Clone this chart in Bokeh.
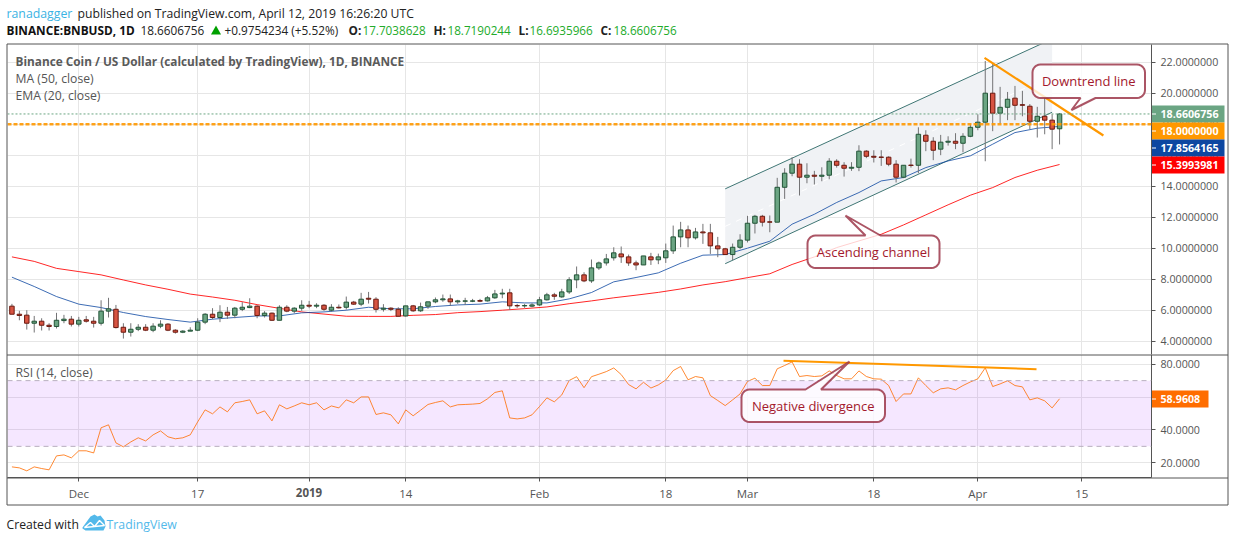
from bokeh.plotting import figure
from bokeh.layouts import column, row
from bokeh.models import FixedTicker, Label, PolyAnnotation, PrintfTickFormatter, Span, Range1d
from bokeh.embed import file_html
from bokeh.resources import INLINE
import math

# ---------- data ----------
first_day = -9  # Nov 22, 2018; day 0 = Dec 1, 2018
opens = [6.26,5.74,5.68,5.16,5.29,5.03,4.95,5.33,5.42,5.10,5.38,5.29,5.16,5.94,6.06,4.90,4.58,4.77,4.90,4.71,
         4.97,5.10,4.71,4.58,4.65,4.71,5.23,5.74,5.53,5.87,5.68,6.06,6.17,6.26,5.66,5.81,5.35,6.19,5.94,6.13,
         6.32,6.26,6.32,6.00,6.19,6.19,6.52,6.39,6.77,6.71,6.06,6.13,6.06,5.63,6.28,5.96,6.26,6.54,6.67,6.73,
         6.54,6.58,6.58,6.62,6.60,6.80,7.05,7.12,6.30,6.28,6.26,6.34,6.67,6.99,6.86,7.18,7.96,8.28,7.89,8.73,
         9.05,9.38,9.63,9.44,9.05,8.92,9.44,9.25,9.38,9.83,10.73,11.18,10.67,11.05,10.99,10.15,9.96,9.59,10.06,10.52,
         11.61,12.06,11.70,11.68,13.93,14.84,15.42,14.58,14.71,14.64,14.71,15.61,15.35,15.16,15.22,16.26,15.93,15.88,15.87,15.42,
         14.58,15.36,15.35,17.29,16.90,16.39,16.84,16.90,16.77,17.22,17.80,18.13,20.00,18.71,19.09,19.68,19.26,19.16,18.19,18.51,
         18.26,17.7038628]
highs = [6.41,5.96,6.00,5.63,5.48,5.16,5.83,5.70,5.63,5.57,5.63,5.57,6.64,6.80,6.34,5.16,5.16,5.10,5.10,5.16,
         5.35,5.16,4.77,4.71,4.90,5.48,5.81,6.13,6.32,6.21,6.21,6.52,6.77,6.32,5.94,5.85,6.32,6.32,6.19,6.64,
         6.60,6.45,6.39,6.39,6.37,6.88,6.60,7.12,7.18,6.84,6.39,6.19,6.19,6.28,6.34,6.49,6.54,6.82,7.01,7.01,
         6.67,6.80,6.73,6.73,6.92,7.31,7.38,7.38,6.41,6.41,6.45,6.86,7.12,7.12,7.38,8.13,8.82,8.45,9.27,9.14,
         9.63,10.06,10.11,9.59,9.20,9.50,9.70,9.65,10.30,11.46,11.70,11.46,11.31,11.57,11.57,10.73,10.02,10.30,10.90,12.09,
         12.15,12.15,12.11,14.54,15.16,15.87,15.74,15.48,14.99,15.22,15.81,15.74,15.55,15.55,16.64,16.32,16.32,16.32,15.93,15.68,
         15.35,15.78,17.80,17.61,17.16,17.31,17.22,17.42,17.42,18.00,18.64,22.08,21.93,20.41,20.08,20.47,20.15,19.30,19.12,19.68,
         18.64,18.7190244]
lows = [5.74,5.35,4.75,4.56,4.69,4.69,4.82,5.16,4.95,4.95,5.20,4.88,5.01,5.53,4.82,4.17,4.30,4.65,4.65,4.58,
        4.84,4.65,4.49,4.52,4.65,4.65,5.10,5.42,5.23,5.44,5.48,5.94,6.13,5.48,5.53,5.31,5.35,5.87,5.81,5.96,
        6.13,6.13,5.96,5.91,6.11,6.04,6.34,6.26,6.43,5.85,5.91,5.94,5.61,5.59,5.89,5.89,6.09,6.45,6.54,6.28,
        6.41,6.34,6.52,6.52,6.56,6.73,6.77,6.02,6.15,6.15,6.19,6.28,6.62,6.67,6.80,7.05,7.42,7.81,7.76,8.60,
        8.88,9.20,9.05,8.86,8.58,8.92,8.92,8.97,9.05,9.63,10.06,10.06,10.56,10.28,9.63,9.42,9.57,9.23,9.94,10.37,
        10.95,11.40,11.03,11.68,13.18,14.64,13.40,14.19,14.11,14.32,14.45,15.20,14.62,14.99,14.97,15.81,15.53,15.31,15.29,14.24,
        14.52,15.20,14.84,16.26,15.68,16.00,16.62,16.39,16.19,17.16,17.61,15.61,17.55,18.04,18.26,18.26,18.51,17.68,17.14,17.35,
        16.39,16.6935966]
closes = [5.74,5.66,5.16,5.29,5.03,4.95,5.35,5.42,5.10,5.35,5.29,5.16,5.94,6.09,4.88,4.58,4.77,4.90,4.71,4.97,
          5.10,4.71,4.58,4.65,4.71,5.23,5.74,5.53,5.87,5.68,6.13,6.19,6.26,5.66,5.81,5.35,6.19,5.94,6.13,6.32,
          6.26,6.32,6.06,6.19,6.15,6.52,6.39,6.71,6.71,6.06,6.13,6.06,5.61,6.28,5.96,6.22,6.54,6.67,6.73,6.54,
          6.60,6.60,6.60,6.58,6.80,7.05,7.10,6.28,6.28,6.30,6.34,6.67,6.99,6.90,7.18,7.96,8.28,7.89,8.73,9.05,
          9.31,9.70,9.44,9.05,8.92,9.50,9.25,9.44,9.83,10.73,11.18,10.67,11.05,10.99,10.15,9.96,9.59,10.06,10.52,11.61,
          12.06,11.68,11.68,13.93,14.84,15.42,14.58,14.71,14.64,14.71,15.61,15.35,15.16,15.22,16.26,15.93,15.87,15.86,15.42,14.58,
          15.35,15.34,17.35,16.90,16.32,16.84,16.90,16.77,17.22,17.80,18.13,20.00,18.71,19.09,19.61,19.22,19.22,18.19,18.51,18.26,
          17.68,18.6606756]

ma_blue_days = [-9,-6,-3,0,3,6,9,12,15,18,21,24,27,30,33,36,39,42,45,48,51,54,57,60,63,66,69,72,75,78,81,84,87,90,93,96,99,102,105,108,111,114,117,120,123,126,129,132]
ma_blue_vals = [8.13,7.53,6.88,6.39,6.17,5.85,5.59,5.40,5.23,5.42,5.53,5.63,5.63,5.83,5.89,6.00,6.19,6.09,6.09,6.24,6.34,6.39,6.54,6.47,6.47,6.73,7.14,7.83,8.11,8.41,9.03,9.55,9.59,10.00,10.45,11.55,12.19,12.95,13.59,14.34,14.56,15.20,15.63,15.96,16.71,17.46,17.74,17.8564165]
ma_red_days = [-9,-6,-3,0,3,6,9,12,15,18,21,24,27,30,33,36,39,42,45,48,51,54,57,60,63,66,69,72,75,78,81,84,87,90,93,96,99,102,105,108,111,114,117,120,123,126,129,132]
ma_red_vals = [9.44,9.15,8.70,8.49,8.28,7.95,7.63,7.35,7.04,6.85,6.64,6.36,6.12,5.89,5.75,5.61,5.60,5.60,5.67,5.72,5.84,5.91,6.00,6.10,6.21,6.42,6.60,6.80,6.97,7.15,7.37,7.63,7.84,8.10,8.35,8.95,9.44,10.04,10.47,10.90,11.50,12.15,12.80,13.42,13.91,14.56,15.03,15.3993981]

rsi_vals = [17.5,16.9,15.1,17.5,16.5,15.7,24.2,24.8,23.0,27.3,27.3,26.0,41.3,43.1,32.1,29.7,32.7,35.2,33.3,37.0,
            39.4,35.8,34.6,35.2,37.0,44.9,52.2,49.8,54.0,51.0,56.5,57.3,58.3,49.8,51.6,45.5,55.3,52.8,54.6,56.5,
            55.3,56.5,52.2,54.6,53.4,58.3,56.5,60.1,60.1,49.4,50.4,49.2,43.7,52.2,48.6,52.0,55.5,56.7,57.7,54.0,
            55.3,55.5,55.7,56.1,58.9,62.8,63.8,47.3,46.7,47.3,49.2,54.2,59.5,57.1,61.3,70.1,72.4,65.7,72.4,73.9,
            75.5,77.7,73.7,67.6,65.0,69.0,65.5,67.4,70.4,76.1,78.6,70.5,72.5,71.7,60.9,57.9,54.8,58.3,61.9,69.5,
            71.5,67.0,67.0,77.2,79.2,81.4,72.5,73.1,72.5,72.9,75.9,73.1,71.1,71.1,75.9,72.5,71.1,70.9,67.0,57.3,
            61.9,61.9,71.7,67.0,62.6,65.0,65.6,64.4,67.0,69.2,71.1,77.8,66.4,68.0,69.9,67.0,66.2,58.3,59.5,57.7,
            53.4,58.9608]

price_ticks = [4,6,8,10,12,14,16,18,20,22]
rsi_ticks = [20,40,60,80]
date_ticks = [0,16,31,44,62,79,90,107,121,135]
date_labels = ["Dec","17","","14","Feb","18","Mar","18","Apr","15"]

channel_days = [87,131]
channel_low = [9.0,18.77]
channel_mid = [11.41,21.13]
channel_up = [13.83,23.50]
down_days = [121.9,137.9]
down_vals = [22.28,17.27]
div_days = [94.85,128.9]
div_vals = [82.07,76.96]
level_price = 18.0
last_close = 18.6606756

# ---------- layout constants ----------
FONT = "Open Sans"
PX_L, PX_R, MAIN_T, MAIN_B, RSI_B = 7, 1151, 44, 354, 477
D0_PX, PX_PER_DAY = 78.3, 7.43
P22_PY, PX_PER_PRICE = 61.7, 15.5
R80_PY, PX_PER_RSI = 363.7, 1.643
x_range = ((PX_L-D0_PX)/PX_PER_DAY, (PX_R-D0_PX)/PX_PER_DAY)
YP = lambda py: 22-(py-P22_PY)/PX_PER_PRICE
YR = lambda py: 80-(py-R80_PY)/PX_PER_RSI

GRID = "#e6e6e6"
FRAME = "#555555"
TXT = "#555555"
UP, DOWN = "#6ba583", "#d75442"
UPB, DOWNB = "#225437", "#6b1a10"
WICK = "#737375"

p = figure(width=1234, height=354, x_range=x_range, y_range=(YP(MAIN_B), YP(MAIN_T)),
           output_backend="svg", toolbar_location=None, y_axis_location="right",
           min_border_left=PX_L, min_border_right=1234-PX_R, min_border_top=MAIN_T, min_border_bottom=0)
r = figure(width=1234, height=187, x_range=p.x_range, y_range=(YR(RSI_B), YR(MAIN_B)),
           output_backend="svg", toolbar_location=None, y_axis_location="right",
           min_border_left=PX_L, min_border_right=1234-PX_R, min_border_top=0, min_border_bottom=541-RSI_B)

for f, ticks in ((p, price_ticks), (r, rsi_ticks)):
    f.outline_line_color = None
    f.xgrid.ticker = FixedTicker(ticks=date_ticks)
    f.ygrid.ticker = FixedTicker(ticks=ticks)
    f.xgrid.grid_line_color = GRID
    f.ygrid.grid_line_color = GRID
    f.yaxis.ticker = FixedTicker(ticks=ticks)
    f.yaxis.axis_line_color = FRAME
    f.yaxis.major_tick_line_color = FRAME
    f.yaxis.major_tick_out = 4
    f.yaxis.major_tick_in = 0
    f.yaxis.minor_tick_line_color = None
    f.yaxis.major_label_text_font = FONT
    f.yaxis.major_label_text_font_size = "10.7px"
    f.yaxis.major_label_text_color = TXT
    f.yaxis.major_label_standoff = 5
p.yaxis.formatter = PrintfTickFormatter(format="%.7f")
r.yaxis.formatter = PrintfTickFormatter(format="%.4f")
p.xaxis.visible = False
r.xaxis.ticker = FixedTicker(ticks=date_ticks)
r.xaxis.major_label_overrides = {d: l for d, l in zip(date_ticks, date_labels)}
r.xaxis.axis_line_color = FRAME
r.xaxis.major_tick_line_color = FRAME
r.xaxis.major_tick_out = 4
r.xaxis.major_tick_in = 0
r.xaxis.minor_tick_line_color = None
r.xaxis.major_label_text_font = FONT
r.xaxis.major_label_text_font_size = "11.5px"
r.xaxis.major_label_text_color = TXT
r.xaxis.major_label_standoff = 4

# ---------- main panel ----------
days = [first_day+i for i in range(len(opens))]
p.patch(channel_days+channel_days[::-1], channel_low+channel_up[::-1], fill_color="#f0f2f5", line_color=None)
p.line(channel_days, channel_mid, line_color="#ffffff", line_width=1, line_dash="6 6")
p.line(channel_days, channel_low, line_color="#3f7674", line_width=1)
p.line(channel_days, channel_up, line_color="#3f7674", line_width=1)

p.line(ma_red_days, ma_red_vals, line_color="#ff0000", line_width=1, line_alpha=0.85)
p.line(ma_blue_days, ma_blue_vals, line_color="#0d47a1", line_width=1, line_alpha=0.8)

ups = [o <= c for o, c in zip(opens, closes)]
p.segment(days, highs, days, lows, line_color=WICK, line_width=1)
p.vbar(x=days, top=[max(o, c) for o, c in zip(opens, closes)],
       bottom=[min(o, c) for o, c in zip(opens, closes)], width=0.6,
       fill_color=[UP if u else DOWN for u in ups],
       line_color=[UPB if u else DOWNB for u in ups], line_width=1)

p.add_layout(Span(location=last_close, dimension="width", line_color=UP, line_dash="2 2", line_width=1))
p.add_layout(Span(location=level_price, dimension="width", line_color="#ff9800", line_dash="4 2", line_width=2.5, line_alpha=0.9))
p.line(down_days, down_vals, line_color="#ff9800", line_width=2.2)

# ---------- RSI panel ----------
r.patch([x_range[0], x_range[1], x_range[1], x_range[0]], [70, 70, 30, 30], fill_color="#9915ff", fill_alpha=0.1, line_color=None)
for lvl in (70, 30):
    r.add_layout(Span(location=lvl, dimension="width", line_color="#b8aebf", line_dash="5 4", line_width=1))
r.line(days, rsi_vals, line_color="#ff6d00", line_width=1, line_alpha=0.8)
r.line(div_days, div_vals, line_color="#ff9800", line_width=2)

# ---------- transparent page-sized overlay for the texts and shapes around the panels ----------
ov = figure(width=1234, height=541, x_range=Range1d(0, 1234), y_range=Range1d(541, 0),
            output_backend="svg", toolbar_location=None, x_axis_location=None, y_axis_location=None,
            min_border=0, background_fill_color=None, border_fill_color=None, outline_line_color=None)
ov.grid.visible = False

def text(px, py, s, size=12, color=TXT, style="normal", align="left", baseline="middle", font=FONT):
    ov.add_layout(Label(x=px, y=py, text=s, text_font=font, text_font_size=f"{size}px",
                        text_color=color, text_font_style=style, text_align=align,
                        text_baseline=baseline))

def poly(pts, fill=None, falpha=1.0, line=None, lw=1.0, lalpha=1.0):
    ov.add_layout(PolyAnnotation(xs=[a for a, b in pts], ys=[b for a, b in pts],
                                 fill_color=fill, fill_alpha=falpha if fill else 0,
                                 line_color=line, line_width=lw, line_alpha=lalpha if line else 0,
                                 editable=False))

def rounded(l, t, rgt, b, rad, pointer=None, side=None):
    """outline of a rounded box, with an optional pointer on its top or bottom edge"""
    pts = []
    def arc(cx, cy, a0, a1):
        for k in range(7):
            a = math.radians(a0+(a1-a0)*k/6)
            pts.append((cx+rad*math.cos(a), cy+rad*math.sin(a)))
    arc(l+rad, t+rad, 180, 270)
    if side == "top":
        pts.extend(pointer)
    arc(rgt-rad, t+rad, 270, 360)
    arc(rgt-rad, b-rad, 0, 90)
    if side == "bottom":
        pts.extend(pointer)
    arc(l+rad, b-rad, 90, 180)
    return pts

CALL_LINE = "#962a3e"
CALL_TXT = "#a3192d"
def callout(box, pointer, side, s, size=13):
    pts = rounded(*box, 8, pointer, side)
    poly(pts, fill="#ffffff", falpha=0.78, line=CALL_LINE, lw=2, lalpha=0.8)
    text((box[0]+box[2])/2, (box[1]+box[3])/2, s, size=size, color=CALL_TXT, align="center")

callout((1032, 64, 1144.5, 97.5), [(1095, 97.5), (1071, 109.5), (1080, 97.5)], "bottom", "Downtrend line")
callout((807, 235, 939, 267.5), [(865, 235), (845, 215), (880, 235)], "top", "Ascending channel")
callout((741, 389, 884.5, 421.5), [(805, 389), (849, 361), (820.5, 389)], "top", "Negative divergence")

def tag(top, bottom, color, s, rgt=1224):
    poly([(1151.5, top), (rgt, top), (rgt, bottom), (1151.5, bottom)], fill=color)
    mid = (top+bottom)/2
    poly([(1151.5, mid), (1155.5, mid)], line="#ffffff", lw=1)
    text(1160, mid, s, size=10.7, color="#ffffff", style="bold")

tag(105, 122, UP, "18.6606756")
tag(122, 139, "#ff9800", "18.0000000")
tag(139, 156, "#0d47a1", "17.8564165")
tag(156, 173, "#ff0000", "15.3993981")
tag(390, 407, "#ff6d00", "58.9608", rgt=1208)

text(6, 12.5, "ranadagger", size=12.3, color="#3bb3e4")
text(77, 12.5, "published on TradingView.com, April 12, 2019 16:26:20 UTC", size=12.2, color="#222222")
text(6, 29.5, "BINANCE:BNBUSD, 1D", size=11.8, color="#111111", style="bold")
text(140, 29.5, "18.6606756", size=11.8, color="#222222")
poly([(210.5, 34), (220.5, 34), (215.5, 25)], fill="#00a000")
text(224, 29.5, "+0.9754234 (+5.52%)", size=11.8, color="#222222")
GREEN = "#22ab2a"
for lx, l, vx, v in ((348, "O:", 362, "17.7038628"), (433, "H:", 447, "18.7190244"),
                     (518, "L:", 529, "16.6935966"), (600, "C:", 613, "18.6606756")):
    text(lx, 29.5, l, size=11.8, color="#222222", style="bold")
    text(vx, 29.5, v, size=11.7, color=GREEN)

text(15, 60.5, "Binance Coin / US Dollar (calculated by TradingView), 1D, BINANCE", size=11.8, style="bold", color="#5a5a5a")
text(15, 77.5, "MA (50, close)", size=12.2)
text(15, 94.5, "EMA (20, close)", size=12.2)
text(15, 371.5, "RSI (14, close)", size=12.2)
text(308.5, 491.5, "2019", size=11.5, style="bold", align="center")

poly([(6.5, 43.5), (1227.5, 43.5), (1227.5, 504.5), (6.5, 504.5)], line=FRAME, lw=1)
poly([(6.5, 354.5), (1227.5, 354.5)], line=FRAME, lw=1)
poly([(6.5, 477.5), (1227.5, 477.5)], line=FRAME, lw=1)
text(6, 523.5, "Created with", size=12.2, color="#222222")
poly([(82, 527), (90, 516), (94, 514), (97, 516), (100, 515), (104, 520), (105, 526), (103, 530), (85, 530), (82, 528)], fill="#53b9ea")
poly([(84, 527), (90, 522), (94, 526), (99, 520), (104, 525)], line="#ffffff", lw=1.4)
text(106, 523.5, "TradingView", size=12.3, color="#53b9ea")

panels = column(p, r, spacing=0)
holder = row(ov, styles={"position": "absolute", "left": "0px", "top": "0px", "pointer-events": "none"})
page = column(panels, holder, spacing=0)
open("out.html", "w").write(file_html(page, INLINE))
